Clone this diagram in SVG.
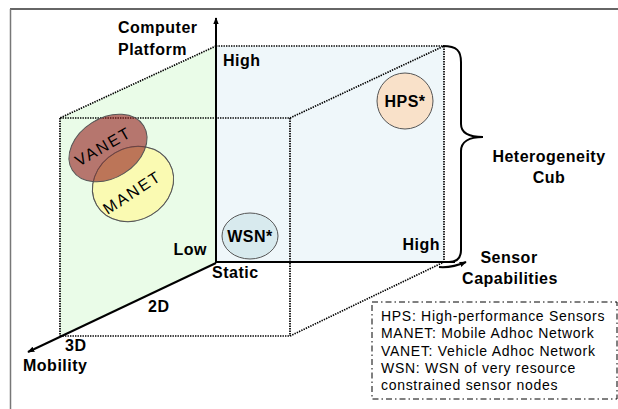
<svg xmlns="http://www.w3.org/2000/svg" width="618" height="409" viewBox="0 0 618 409">
<defs>
<marker id="ah" viewBox="0 0 10 10" refX="9" refY="5" markerWidth="7" markerHeight="7" orient="auto" markerUnits="userSpaceOnUse">
<path d="M0,1 L10,5 L0,9 Z" fill="#000"/>
</marker>
<style>
.lbl{font-family:"Liberation Sans",Arial,sans-serif;font-weight:bold;font-size:16px;letter-spacing:0.5px;fill:#000}
.net{font-family:"Liberation Sans",Arial,sans-serif;font-size:16px;letter-spacing:2px;fill:#000}
.leg{font-family:"Liberation Sans",Arial,sans-serif;font-size:14px;letter-spacing:0.7px;fill:#000}
.dot{fill:none;stroke:#000;stroke-width:1.7;stroke-dasharray:1.4 1.1}
.axis{fill:none;stroke:#000;stroke-width:2}
.ell{stroke:#555;stroke-width:1}
</style>
</defs>
<rect width="618" height="409" fill="#fff"/>
<g id="frame">
<line x1="10" y1="9" x2="618" y2="9" stroke="#333" stroke-width="1.5"/>
<line x1="10.5" y1="9" x2="10.5" y2="409" stroke="#777" stroke-width="1.5"/>
</g>
<g id="faces">
<rect x="216" y="46" width="228" height="216" fill="#EFF7FA"/>
<polygon points="216,46 60,118 60,336 216,263" fill="#EAFCE8"/>
</g>
<g id="connectors">
<line class="dot" x1="216" y1="46" x2="444" y2="46"/>
<line class="dot" x1="444" y1="46" x2="444" y2="262"/>
<line class="dot" x1="216" y1="46" x2="60" y2="118"/>
<line class="dot" x1="60" y1="118" x2="290" y2="118"/>
<line class="dot" x1="60" y1="118" x2="60" y2="336"/>
<line class="dot" x1="60" y1="336" x2="290" y2="336"/>
<line class="dot" x1="290" y1="118" x2="290" y2="336"/>
<line class="dot" x1="290" y1="118" x2="444" y2="46"/>
<line class="dot" x1="290" y1="336" x2="444" y2="262"/>
<line class="axis" x1="216" y1="263" x2="216" y2="18" marker-end="url(#ah)"/>
<line class="axis" x1="215" y1="262" x2="455" y2="262"/>
<line class="axis" x1="216" y1="263" x2="28" y2="352" marker-end="url(#ah)"/>
<path class="axis" d="M439,267 Q452,268 466,262" marker-end="url(#ah)"/>
<path class="axis" d="M443,46 C457,46 461,51 461,62 L461,124 C461,133 469,137 483,137 C469,137 461,142 461,151 L461,250 Q461,262 449,262"/>
</g>
<g id="vanet-manet">
<ellipse class="ell" cx="133" cy="184" rx="42" ry="36" transform="rotate(-30 133 184)" fill="#FAFAB2"/>
<ellipse class="ell" cx="108" cy="148" rx="42" ry="30" transform="rotate(-32 108 148)" fill="#921C1C" fill-opacity="0.6"/>
<ellipse cx="133" cy="184" rx="42" ry="36" transform="rotate(-30 133 184)" fill="none" stroke="#555" stroke-width="0.8" stroke-opacity="0.6"/>
<text class="net" x="103" y="152" text-anchor="middle" transform="rotate(-30 103 146)">VANET</text>
<text class="net" x="132" y="198" text-anchor="middle" transform="rotate(-33 132 192)">MANET</text>
</g>
<g id="hps">
<circle class="ell" cx="405" cy="101" r="28" fill="#F9E1C9"/>
<text class="lbl" x="405" y="107" text-anchor="middle">HPS*</text>
</g>
<g id="wsn">
<ellipse class="ell" cx="250" cy="236" rx="28" ry="23" fill="#D8EAEE"/>
<text class="lbl" x="250" y="242" text-anchor="middle">WSN*</text>
</g>
<g id="labels">
<text class="lbl" x="118" y="33">Computer</text>
<text class="lbl" x="118" y="55">Platform</text>
<text class="lbl" x="223" y="66">High</text>
<text class="lbl" x="207" y="255" text-anchor="end">Low</text>
<text class="lbl" x="212" y="278">Static</text>
<text class="lbl" x="148" y="312">2D</text>
<text class="lbl" x="65" y="351">3D</text>
<text class="lbl" x="23" y="371">Mobility</text>
<text class="lbl" x="440" y="250" text-anchor="end">High</text>
<text class="lbl" x="509" y="263" text-anchor="middle">Sensor</text>
<text class="lbl" x="510" y="284" text-anchor="middle">Capabilities</text>
<text class="lbl" x="549" y="162" text-anchor="middle">Heterogeneity</text>
<text class="lbl" x="549" y="183" text-anchor="middle">Cub</text>
</g>
<g id="legend">
<rect x="372" y="302" width="245" height="97" fill="none" stroke="#000" stroke-width="1" stroke-dasharray="6 3 1.5 3"/>
<text class="leg" x="381" y="321">HPS: High-performance Sensors</text>
<text class="leg" x="381" y="338">MANET: Mobile Adhoc Network</text>
<text class="leg" x="381" y="356">VANET: Vehicle Adhoc Network</text>
<text class="leg" x="381" y="373">WSN: WSN of very resource</text>
<text class="leg" x="381" y="390">constrained sensor nodes</text>
</g>
</svg>
